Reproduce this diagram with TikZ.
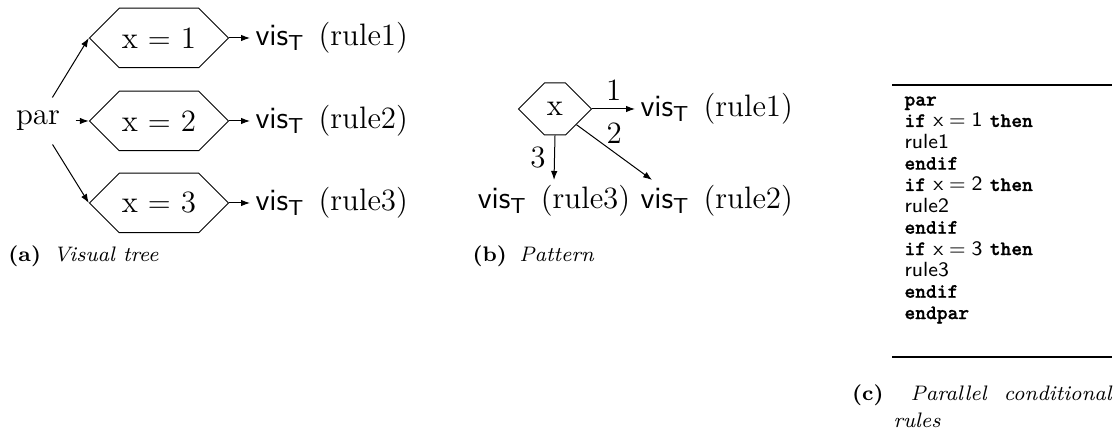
\documentclass[tikz,border=0pt]{standalone}
\usepackage{amsmath, amssymb}
\usepackage{fontspec}
\usetikzlibrary{arrows.meta,shapes.symbols}

\newfontfamily\kwfont[FakeBold=1]{lmmonolt10-bold.otf}

\tikzset{
  big/.style={font=\fontsize{12.4}{15}\selectfont},
  cond/.style={big, draw, shape=signal, signal to=west and east,
    signal pointer angle=90, inner xsep=0pt, inner ysep=0pt},
  vis/.style={big, inner sep=2pt},
  arr/.style={-{Latex[length=3.6pt,width=2.6pt]}},
  captext/.style={font=\fontsize{8.4}{10.8}\selectfont, inner sep=0pt},
}
\newcommand{\visT}[1]{\textsf{vis}$_{\mathsf{T}}$\hspace{0.45em}(#1)}
\newcommand{\kw}[1]{{\kwfont #1}}

\begin{document}
\begin{tikzpicture}[x=0.4pt,y=-0.4pt]
\useasboundingbox (0,0) rectangle (1118,430);

% (a) visual tree
\node[big, minimum width=29.6pt, minimum height=18.4pt, inner sep=0pt] (par) at (38,121) {par};
\node[cond, minimum width=55.6pt, minimum height=23.8pt] (c1) at (159,38) {x $=$ 1};
\node[cond, minimum width=55.6pt, minimum height=23.8pt] (c2) at (159,121) {x $=$ 2};
\node[cond, minimum width=55.6pt, minimum height=23.8pt] (c3) at (159,203) {x $=$ 3};
\node[vis, anchor=west] (v1) at (250,38) {\visT{rule1}};
\node[vis, anchor=west] (v2) at (250,121) {\visT{rule2}};
\node[vis, anchor=west] (v3) at (250,203) {\visT{rule3}};
\draw[arr] (par) -- (c1.west);
\draw[arr] (par) -- (c2.west);
\draw[arr] (par) -- (c3.west);
\draw[arr] (c1.east) -- (v1.west);
\draw[arr] (c2.east) -- (v2.west);
\draw[arr] (c3.east) -- (v3.west);
\node[captext, anchor=base west] (capa) at (8,262) {\textbf{(a)}\hspace{0.6em}\textit{Visual tree}};

% (b) pattern
\node[cond, minimum width=29.2pt, minimum height=20.8pt] (x) at (555,109) {x};
\node[vis, anchor=west] (r1) at (635,109) {\visT{rule1}};
\node[vis, anchor=north] (r3) at (554,180) {\visT{rule3}};
\node[vis, anchor=north west] (r2) at (635,180) {\visT{rule2}};
\draw[arr] (x.east) -- node[big, above] {1} (r1.west);
\draw[arr] (x) -- node[big, above] {2} (r2.162);
\draw[arr] (x.south) -- node[big, left] {3} (r3.north);
\node[captext, anchor=base west] (capb) at (472,262) {\textbf{(b)}\hspace{0.6em}\textit{Pattern}};

% (c) parallel conditional rules
\draw[line width=0.8pt] (892,85) -- (1112,85);
\node[anchor=north west, align=left, inner sep=0pt, font=\fontsize{8.2}{8.54}\selectfont] (code) at (904,96) {
  \kw{par}\\
  \kw{if} $\mathsf{x} = \mathsf{1}$ \kw{then}\\
  \textsf{rule1}\\
  \kw{endif}\\
  \kw{if} $\mathsf{x} = \mathsf{2}$ \kw{then}\\
  \textsf{rule2}\\
  \kw{endif}\\
  \kw{if} $\mathsf{x} = \mathsf{3}$ \kw{then}\\
  \textsf{rule3}\\
  \kw{endif}\\
  \kw{endpar}};
\draw[line width=0.8pt] (892,357) -- (1112,357);
% hanging label, first line spread to the full width
\node[captext, anchor=north west, text width=87.6pt, align=left] (capc) at (893,384)
  {\hbox to\linewidth{\llap{\textbf{(c)}\hspace{4pt}}\hspace{6.8pt}\textit{Parallel}\hfil\textit{conditional}}\\
   \textit{rules}};
\end{tikzpicture}
\end{document}
